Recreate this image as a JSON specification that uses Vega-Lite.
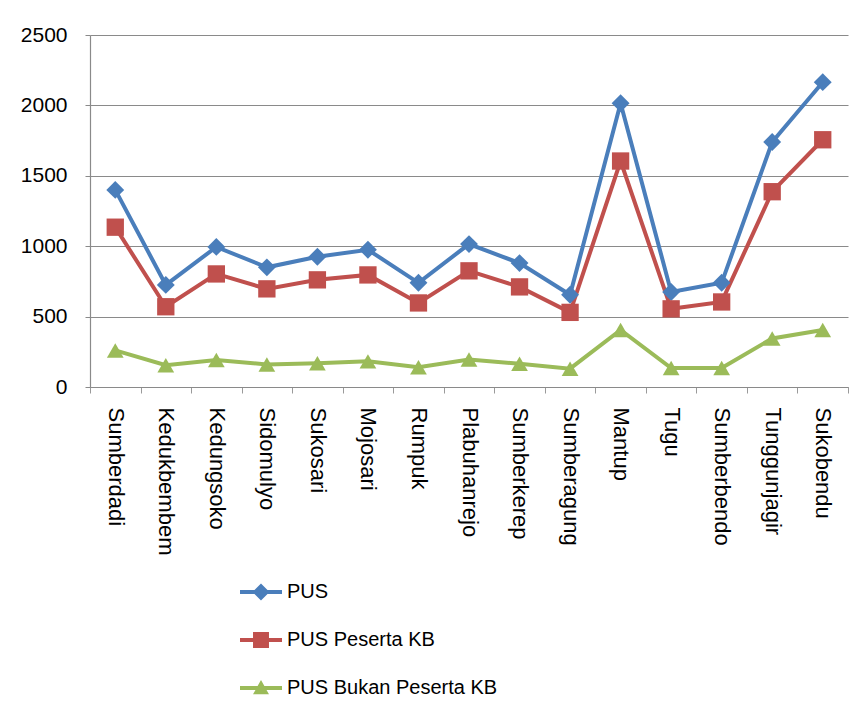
{
  "$schema": "https://vega.github.io/schema/vega-lite/v6.json",
  "width": 758,
  "height": 352,
  "autosize": {"type": "none"},
  "padding": {"left": 90, "top": 35, "right": 8, "bottom": 321},
  "background": "white",
  "data": {
    "values": [
      {"desa": "Sumberdadi", "series": "PUS", "value": 1400},
      {"desa": "Kedukbembem", "series": "PUS", "value": 725},
      {"desa": "Kedungsoko", "series": "PUS", "value": 995},
      {"desa": "Sidomulyo", "series": "PUS", "value": 850},
      {"desa": "Sukosari", "series": "PUS", "value": 925},
      {"desa": "Mojosari", "series": "PUS", "value": 975},
      {"desa": "Rumpuk", "series": "PUS", "value": 740},
      {"desa": "Plabuhanrejo", "series": "PUS", "value": 1015},
      {"desa": "Sumberkerep", "series": "PUS", "value": 880},
      {"desa": "Sumberagung", "series": "PUS", "value": 655},
      {"desa": "Mantup", "series": "PUS", "value": 2015},
      {"desa": "Tugu", "series": "PUS", "value": 675},
      {"desa": "Sumberbendo", "series": "PUS", "value": 740},
      {"desa": "Tunggunjagir", "series": "PUS", "value": 1740},
      {"desa": "Sukobendu", "series": "PUS", "value": 2165},
      {"desa": "Sumberdadi", "series": "PUS Peserta KB", "value": 1135},
      {"desa": "Kedukbembem", "series": "PUS Peserta KB", "value": 570},
      {"desa": "Kedungsoko", "series": "PUS Peserta KB", "value": 803},
      {"desa": "Sidomulyo", "series": "PUS Peserta KB", "value": 697},
      {"desa": "Sukosari", "series": "PUS Peserta KB", "value": 761},
      {"desa": "Mojosari", "series": "PUS Peserta KB", "value": 796},
      {"desa": "Rumpuk", "series": "PUS Peserta KB", "value": 597},
      {"desa": "Plabuhanrejo", "series": "PUS Peserta KB", "value": 825},
      {"desa": "Sumberkerep", "series": "PUS Peserta KB", "value": 711},
      {"desa": "Sumberagung", "series": "PUS Peserta KB", "value": 530},
      {"desa": "Mantup", "series": "PUS Peserta KB", "value": 1605},
      {"desa": "Tugu", "series": "PUS Peserta KB", "value": 555},
      {"desa": "Sumberbendo", "series": "PUS Peserta KB", "value": 604},
      {"desa": "Tunggunjagir", "series": "PUS Peserta KB", "value": 1387},
      {"desa": "Sukobendu", "series": "PUS Peserta KB", "value": 1756},
      {"desa": "Sumberdadi", "series": "PUS Bukan Peserta KB", "value": 260},
      {"desa": "Kedukbembem", "series": "PUS Bukan Peserta KB", "value": 155},
      {"desa": "Kedungsoko", "series": "PUS Bukan Peserta KB", "value": 192},
      {"desa": "Sidomulyo", "series": "PUS Bukan Peserta KB", "value": 160},
      {"desa": "Sukosari", "series": "PUS Bukan Peserta KB", "value": 168},
      {"desa": "Mojosari", "series": "PUS Bukan Peserta KB", "value": 182},
      {"desa": "Rumpuk", "series": "PUS Bukan Peserta KB", "value": 140},
      {"desa": "Plabuhanrejo", "series": "PUS Bukan Peserta KB", "value": 195},
      {"desa": "Sumberkerep", "series": "PUS Bukan Peserta KB", "value": 165},
      {"desa": "Sumberagung", "series": "PUS Bukan Peserta KB", "value": 130},
      {"desa": "Mantup", "series": "PUS Bukan Peserta KB", "value": 405},
      {"desa": "Tugu", "series": "PUS Bukan Peserta KB", "value": 135},
      {"desa": "Sumberbendo", "series": "PUS Bukan Peserta KB", "value": 135},
      {"desa": "Tunggunjagir", "series": "PUS Bukan Peserta KB", "value": 345},
      {"desa": "Sukobendu", "series": "PUS Bukan Peserta KB", "value": 405}
    ]
  },
  "encoding": {
    "x": {
      "field": "desa", "type": "nominal", "sort": null,
      "scale": {"paddingInner": 0, "paddingOuter": 0},
      "axis": {
        "title": null, "labelAngle": 90, "labelFontSize": 22, "labelPadding": 14,
        "tickBand": "extent", "tickSize": 6, "tickColor": "#9a9a9a",
        "domainColor": "#8a8a8a", "domainWidth": 1.2, "grid": false
      }
    },
    "y": {
      "field": "value", "type": "quantitative",
      "scale": {"domain": [0, 2500], "nice": false},
      "axis": {
        "title": null, "values": [0, 500, 1000, 1500, 2000, 2500], "format": "d",
        "labelFontSize": 21, "labelPadding": 18, "tickSize": 5, "tickColor": "#8a8a8a",
        "domainColor": "#8a8a8a", "domainWidth": 1.2,
        "gridColor": "#8a8a8a", "gridWidth": 1.2
      }
    },
    "color": {
      "field": "series", "type": "nominal",
      "scale": {
        "domain": ["PUS", "PUS Peserta KB", "PUS Bukan Peserta KB"],
        "range": ["#4A7EBB", "#C0504D", "#9BBB59"]
      },
      "legend": {
        "orient": "none", "legendX": 150, "legendY": 536, "title": null,
        "labelFontSize": 20, "labelColor": "#000000", "rowPadding": 17,
        "labelLimit": 400, "symbolSize": 1764, "symbolStrokeWidth": 0, "labelOffset": 5,
        "symbolType": "M-1,-0.09 L-0.31,-0.09 L0,-0.4 L0.31,-0.09 L1,-0.09 L1,0.09 L0.31,0.09 L0,0.4 L-0.31,0.09 L-1,0.09 Z",
        "encode": {
          "symbols": {
            "update": {
              "shape": {"signal": "datum.value === 'PUS' ? 'M-1,-0.09 L-0.31,-0.09 L0,-0.4 L0.31,-0.09 L1,-0.09 L1,0.09 L0.31,0.09 L0,0.4 L-0.31,0.09 L-1,0.09 Z' : datum.value === 'PUS Peserta KB' ? 'M-1,-0.09 L-0.38,-0.09 L-0.38,-0.38 L0.38,-0.38 L0.38,-0.09 L1,-0.09 L1,0.09 L0.38,0.09 L0.38,0.38 L-0.38,0.38 L-0.38,0.09 L-1,0.09 Z' : 'M-1,-0.09 L-0.162,-0.09 L0,-0.38 L0.162,-0.09 L1,-0.09 L1,0.09 L0.263,0.09 L0.38,0.3 L-0.38,0.3 L-0.263,0.09 L-1,0.09 Z'"},
              "fill": {"scale": "color", "field": "value"},
              "strokeWidth": {"value": 0},
              "opacity": {"value": 1}
            }
          }
        }
      }
    }
  },
  "layer": [
    {
      "mark": {"type": "line", "strokeWidth": 4}
    },
    {
      "transform": [{"filter": "datum.series === 'PUS'"}],
      "mark": {"type": "point", "filled": true, "opacity": 1, "size": 320, "shape": "diamond"}
    },
    {
      "transform": [{"filter": "datum.series === 'PUS Peserta KB'"}],
      "mark": {"type": "point", "filled": true, "opacity": 1, "size": 300, "shape": "square"}
    },
    {
      "transform": [{"filter": "datum.series === 'PUS Bukan Peserta KB'"}],
      "mark": {"type": "point", "filled": true, "opacity": 1, "size": 280, "shape": "triangle-up"}
    }
  ],
  "config": {
    "view": {"stroke": null},
    "font": "Liberation Sans",
    "axis": {"labelFont": "Liberation Sans", "labelColor": "#000000"}
  }
}
